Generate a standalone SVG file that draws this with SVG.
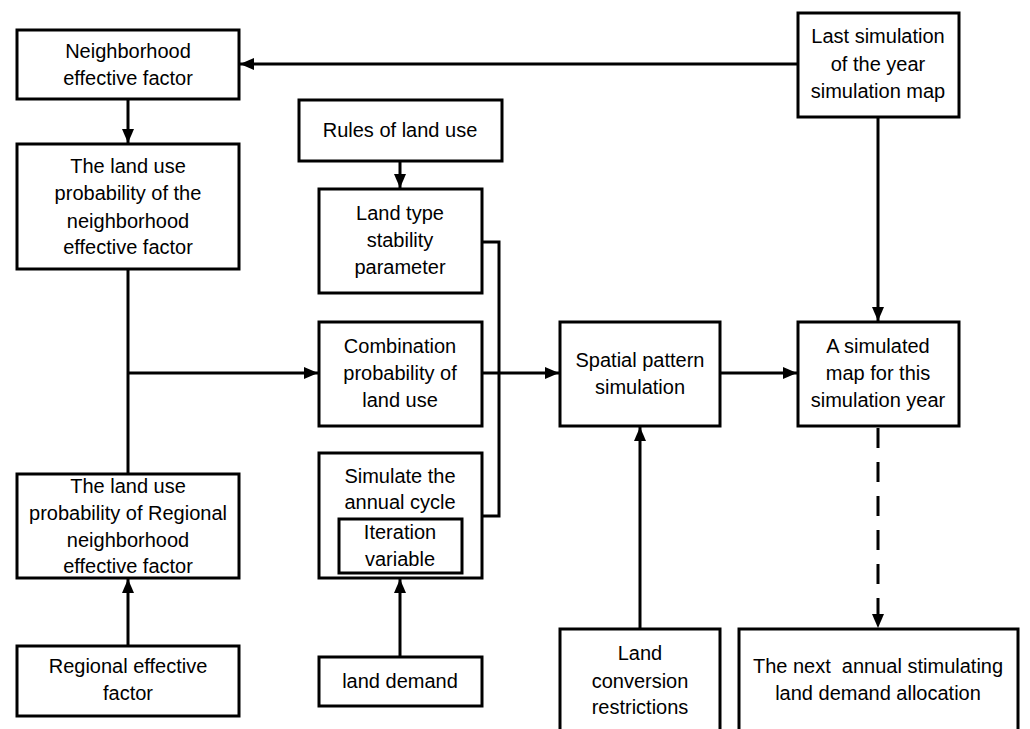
<svg xmlns="http://www.w3.org/2000/svg" width="1030" height="729" viewBox="0 0 1030 729">
<style>
.box{fill:#fff;stroke:#000;stroke-width:3}
.t{font-family:"Liberation Sans",Arial,sans-serif;font-size:20px;fill:#000;text-anchor:middle;white-space:pre}
.c{fill:none;stroke:#000;stroke-width:3}
.d{stroke-dasharray:20 14}
</style>
<defs>
<marker id="ah" markerUnits="userSpaceOnUse" markerWidth="14" markerHeight="12" refX="14" refY="6" orient="auto">
<path d="M0,0 L14,6 L0,12 z" fill="#000"/>
</marker>
</defs>
<rect width="1030" height="729" fill="#fff"/>
<g id="connectors">
<line class="c" x1="798" y1="64" x2="240" y2="64" marker-end="url(#ah)"/>
<line class="c" x1="128" y1="99" x2="128" y2="143" marker-end="url(#ah)"/>
<line class="c" x1="128" y1="269" x2="128" y2="474"/>
<line class="c" x1="128" y1="373" x2="318" y2="373" marker-end="url(#ah)"/>
<line class="c" x1="400" y1="161" x2="400" y2="188" marker-end="url(#ah)"/>
<polyline class="c" points="482,242 499,242 499,516 482,516"/>
<line class="c" x1="482" y1="373" x2="559" y2="373" marker-end="url(#ah)"/>
<line class="c" x1="720" y1="373" x2="797" y2="373" marker-end="url(#ah)"/>
<line class="c" x1="878" y1="117" x2="878" y2="321" marker-end="url(#ah)"/>
<line class="c d" x1="878" y1="428" x2="878" y2="628" marker-end="url(#ah)"/>
<line class="c" x1="640" y1="629" x2="640" y2="427" marker-end="url(#ah)"/>
<line class="c" x1="400" y1="657" x2="400" y2="579" marker-end="url(#ah)"/>
<line class="c" x1="128" y1="646" x2="128" y2="579" marker-end="url(#ah)"/>
</g>
<g id="n1"><rect class="box" x="17" y="30" width="222" height="69"/>
<text class="t" x="128" y="58">Neighborhood</text><text class="t" x="128" y="85">effective factor</text></g>
<g id="n2"><rect class="box" x="17" y="144" width="222" height="125"/>
<text class="t" x="128" y="173">The land use</text><text class="t" x="128" y="200">probability of the</text><text class="t" x="128" y="228">neighborhood</text><text class="t" x="128" y="254">effective factor</text></g>
<g id="n3"><rect class="box" x="17" y="474" width="222" height="104"/>
<text class="t" x="128" y="493">The land use</text><text class="t" x="128" y="520">probability of Regional</text><text class="t" x="128" y="547">neighborhood</text><text class="t" x="128" y="573">effective factor</text></g>
<g id="n4"><rect class="box" x="17" y="646" width="222" height="70"/>
<text class="t" x="128" y="673">Regional effective</text><text class="t" x="128" y="700">factor</text></g>
<g id="n5"><rect class="box" x="299" y="100" width="203" height="61"/>
<text class="t" x="400" y="137">Rules of land use</text></g>
<g id="n6"><rect class="box" x="319" y="189" width="163" height="104"/>
<text class="t" x="400" y="220">Land type</text><text class="t" x="400" y="247">stability</text><text class="t" x="400" y="274">parameter</text></g>
<g id="n7"><rect class="box" x="319" y="322" width="163" height="104"/>
<text class="t" x="400" y="353">Combination</text><text class="t" x="400" y="380">probability of</text><text class="t" x="400" y="407">land use</text></g>
<g id="n8"><rect class="box" x="319" y="453" width="163" height="125"/>
<text class="t" x="400" y="483">Simulate the</text><text class="t" x="400" y="509">annual cycle</text>
<g id="n8a"><rect class="box" x="339" y="519" width="123" height="54"/>
<text class="t" x="400" y="539">Iteration</text><text class="t" x="400" y="566">variable</text></g></g>
<g id="n9"><rect class="box" x="319" y="657" width="163" height="49"/>
<text class="t" x="400" y="688">land demand</text></g>
<g id="n10"><rect class="box" x="560" y="322" width="160" height="104"/>
<text class="t" x="640" y="367">Spatial pattern</text><text class="t" x="640" y="394">simulation</text></g>
<g id="n11"><rect class="box" x="560" y="629" width="160" height="120"/>
<text class="t" x="640" y="660">Land</text><text class="t" x="640" y="688">conversion</text><text class="t" x="640" y="714">restrictions</text></g>
<g id="n12"><rect class="box" x="798" y="13" width="161" height="104"/>
<text class="t" x="878" y="43">Last simulation</text><text class="t" x="878" y="71">of the year</text><text class="t" x="878" y="98">simulation map</text></g>
<g id="n13"><rect class="box" x="798" y="322" width="161" height="104"/>
<text class="t" x="878" y="353">A simulated</text><text class="t" x="878" y="380">map for this</text><text class="t" x="878" y="407">simulation year</text></g>
<g id="n14"><rect class="box" x="739" y="629" width="279" height="120"/>
<text class="t" x="878" y="673">The next  annual stimulating</text><text class="t" x="878" y="700">land demand allocation</text></g>
</svg>
